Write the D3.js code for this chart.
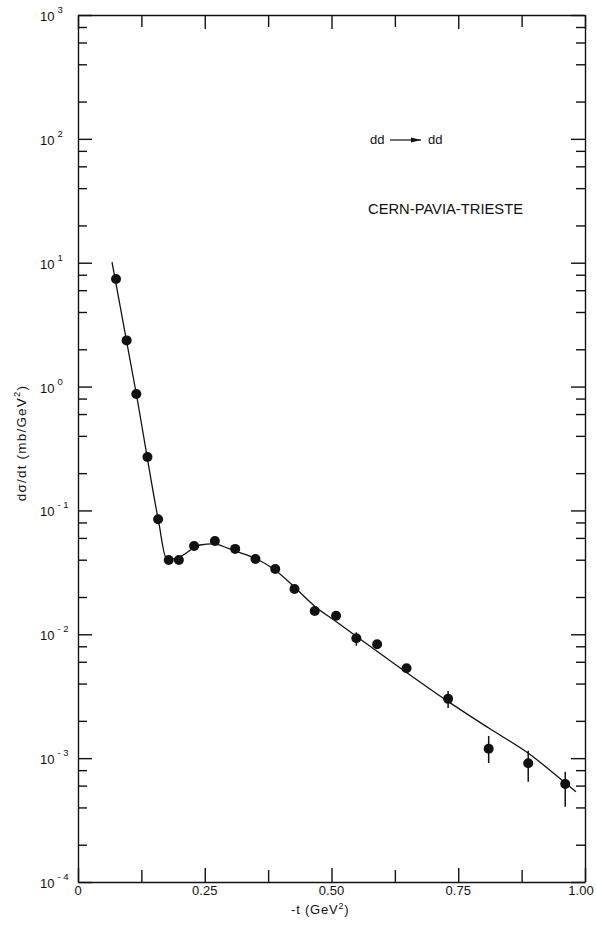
<!DOCTYPE html>
<html>
<head>
<meta charset="utf-8">
<script src="https://cdn.jsdelivr.net/npm/d3@7"></script>
<style>
  body { margin: 0; background: #fff; }
  svg { display: block; }
  text { font-family: "Liberation Sans", Arial, sans-serif; fill: #111; }
</style>
</head>
<body>
<div id="chart"></div>
<script>
// measured points: -t (GeV^2) vs dsigma/dt (mb/GeV^2)
const tVals = [0.075, 0.096, 0.115, 0.137, 0.158, 0.179, 0.199, 0.229, 0.270, 0.310, 0.350,
    0.389, 0.427, 0.467, 0.509, 0.549, 0.590, 0.648, 0.730, 0.810, 0.888, 0.961];
const dsdt = [7.39, 2.36, 0.871, 0.270, 0.0848, 0.0398, 0.0398, 0.0516, 0.0567, 0.0489, 0.0406,
    0.0337, 0.0232, 0.0154, 0.0141, 0.00929, 0.0083, 0.00532, 0.00301, 0.00119, 0.00091, 0.000618];
// error bars (null = hidden inside the marker)
const errLo = [null, null, null, null, null, null, null, null, null, null, null,
    null, null, null, null, 0.00809, null, null, 0.00254, 0.000914, 0.000646, 0.000406];
const errHi = [null, null, null, null, null, null, null, null, null, null, null,
    null, null, null, null, 0.01038, null, null, 0.00348, 0.00151, 0.00115, 0.000778];

// fitted curve
const curveT = [0.0671, 0.1154, 0.1588, 0.1736, 0.1893, 0.2077, 0.2294, 0.2406, 0.2669, 0.2964,
    0.3195, 0.3505, 0.3886, 0.4266, 0.4675, 0.5089, 0.6089, 0.7304, 0.8101, 0.8876, 0.9606, 0.9822];
const curveY = [10.1, 0.855, 0.0822, 0.0417, 0.0406, 0.0437, 0.0502, 0.0526, 0.0536, 0.0494,
    0.0457, 0.0409, 0.0330, 0.0241, 0.0168, 0.0127, 0.00640, 0.00286, 0.00175, 0.00110, 0.000634, 0.000536];

const yDecades = [3, 2, 1, 0, -1, -2, -3, -4];
const yMinorMult = [2, 4, 6, 8];
const xMajor = [0, 0.25, 0.5, 0.75, 1.0];
const xMinor = [0.125, 0.375, 0.625, 0.875];
const xTickLabels = ['0', '0.25', '0.50', '0.75', '1.00'];

const width = 596, height = 925;
const plot = { left: 78, right: 585, top: 15, bottom: 882 };

const svg = d3.select('#chart').append('svg')
    .attr('width', width)
    .attr('height', height);

const x = d3.scaleLinear().domain([0, 1]).range([plot.left, plot.right]);
const y = d3.scaleLog().domain([1e-4, 1e3]).range([plot.bottom, plot.top]);

const majorY = yDecades.map(function(e) { return Math.pow(10, e); });
let minorY = [];
yDecades.slice(1).forEach(function(e) {
    yMinorMult.forEach(function(m) { minorY.push(m * Math.pow(10, e)); });
});

function styleAxis(g) {
    g.selectAll('path, line').attr('stroke', '#111').attr('stroke-width', 1.4);
    g.selectAll('text').remove();
}

// left + right frame with inward ticks
svg.append('g').attr('transform', 'translate(' + plot.left + ',0)')
    .call(d3.axisRight(y).tickValues(majorY).tickSize(14).tickSizeOuter(0))
    .call(styleAxis);
svg.append('g').attr('transform', 'translate(' + plot.left + ',0)')
    .call(d3.axisRight(y).tickValues(minorY).tickSize(9).tickSizeOuter(0))
    .call(styleAxis).select('.domain').remove();
svg.append('g').attr('transform', 'translate(' + plot.right + ',0)')
    .call(d3.axisLeft(y).tickValues(majorY).tickSize(14).tickSizeOuter(0))
    .call(styleAxis);
svg.append('g').attr('transform', 'translate(' + plot.right + ',0)')
    .call(d3.axisLeft(y).tickValues(minorY).tickSize(9).tickSizeOuter(0))
    .call(styleAxis).select('.domain').remove();

// bottom + top frame
svg.append('g').attr('transform', 'translate(0,' + plot.bottom + ')')
    .call(d3.axisTop(x).tickValues(xMajor).tickSize(14).tickSizeOuter(0))
    .call(styleAxis);
svg.append('g').attr('transform', 'translate(0,' + plot.bottom + ')')
    .call(d3.axisTop(x).tickValues(xMinor).tickSize(12).tickSizeOuter(0))
    .call(styleAxis).select('.domain').remove();
svg.append('g').attr('transform', 'translate(0,' + plot.top + ')')
    .call(d3.axisBottom(x).tickValues(xMajor).tickSize(14).tickSizeOuter(0))
    .call(styleAxis);
svg.append('g').attr('transform', 'translate(0,' + plot.top + ')')
    .call(d3.axisBottom(x).tickValues(xMinor).tickSize(12).tickSizeOuter(0))
    .call(styleAxis).select('.domain').remove();

// y tick labels 10^n
let yLab = svg.append('g').selectAll('text').data(yDecades).enter()
    .append('text')
    .attr('x', 40)
    .attr('y', function(e) { return y(Math.pow(10, e)) + 6; })
    .style('font-size', '13px');
yLab.append('tspan').text('10');
yLab.append('tspan')
    .attr('dx', 3)
    .attr('dy', -8)
    .style('font-size', '9.5px')
    .text(function(e) { return e < 0 ? '- ' + (-e) : e; });

// x tick labels
svg.append('g').selectAll('text').data(xMajor).enter()
    .append('text')
    .attr('x', function(d, i) { return x(d) - (i == xMajor.length - 1 ? 4 : 0); })
    .attr('y', 895)
    .attr('text-anchor', 'middle')
    .style('font-size', '13px')
    .text(function(d, i) { return xTickLabels[i]; });

// axis titles
let xt = svg.append('text')
    .attr('x', 291)
    .attr('y', 914)
    .style('font-size', '13px')
    .style('letter-spacing', '0.8px');
xt.append('tspan').text('-t  (GeV');
xt.append('tspan').attr('dy', -5).style('font-size', '9px').text('2');
xt.append('tspan').attr('dy', 5).text(')');

let yt = svg.append('text')
    .attr('transform', 'translate(26,443) rotate(-90)')
    .attr('text-anchor', 'middle')
    .style('font-size', '13.5px')
    .style('letter-spacing', '1.2px');
yt.append('tspan').text('dσ/dt  (mb/GeV');
yt.append('tspan').attr('dy', -6).style('font-size', '9.5px').text('2');
yt.append('tspan').attr('dy', 6).text(')');

// annotations
let reac = svg.append('g');
reac.append('text').attr('x', 370).attr('y', 144).style('font-size', '13px').text('dd');
reac.append('text').attr('x', 428).attr('y', 144).style('font-size', '13px').text('dd');
reac.append('line')
    .attr('x1', 390).attr('x2', 421).attr('y1', 140).attr('y2', 140)
    .attr('stroke', '#111').attr('stroke-width', 1.2);
reac.append('path')
    .attr('d', 'M421,140 L411,137.5 L411,142.5 Z')
    .attr('fill', '#111');

svg.append('text')
    .attr('x', 368)
    .attr('y', 214)
    .attr('textLength', 155)
    .attr('lengthAdjust', 'spacingAndGlyphs')
    .style('font-size', '14.5px')
    .text('CERN-PAVIA-TRIESTE');

// fitted curve
let line = d3.line()
    .x(function(d) { return x(d[0]); })
    .y(function(d) { return y(d[1]); })
    .curve(d3.curveMonotoneX);
svg.append('path')
    .datum(curveT.map(function(t, i) { return [t, curveY[i]]; }))
    .attr('d', line)
    .attr('fill', 'none')
    .attr('stroke', '#111')
    .attr('stroke-width', 1.3);

// data points
let pts = tVals.map(function(t, i) {
    return { t: t, v: dsdt[i], lo: errLo[i], hi: errHi[i] };
});
svg.append('g').selectAll('line').data(pts.filter(function(d) { return d.lo != null; }))
    .enter().append('line')
    .attr('x1', function(d) { return x(d.t); })
    .attr('x2', function(d) { return x(d.t); })
    .attr('y1', function(d) { return y(d.lo); })
    .attr('y2', function(d) { return y(d.hi); })
    .attr('stroke', '#111')
    .attr('stroke-width', 1.5);
svg.append('g').selectAll('circle').data(pts).enter()
    .append('circle')
    .attr('cx', function(d) { return x(d.t); })
    .attr('cy', function(d) { return y(d.v); })
    .attr('r', 5)
    .attr('fill', '#111');
</script>
</body>
</html>
